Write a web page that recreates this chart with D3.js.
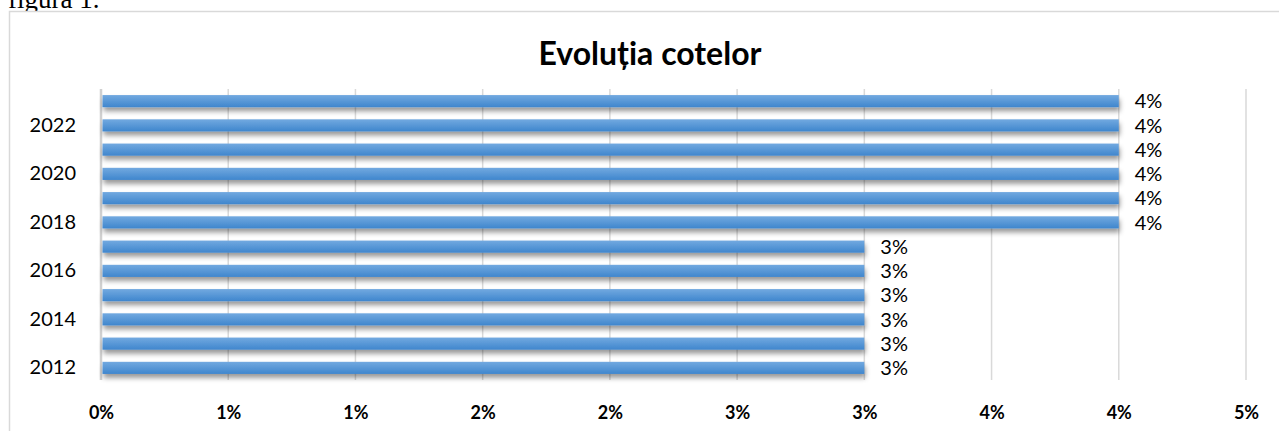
<!DOCTYPE html>
<html>
<head>
<meta charset="utf-8">
<script src="https://cdn.jsdelivr.net/npm/d3@7"></script>
<style>
  body { margin: 0; background: #fff; }
  svg { display: block; }
</style>
</head>
<body>
<div id="chart-area"></div>
<script>
// Datele graficului
const years = ["2012","2013","2014","2015","2016","2017","2018","2019","2020","2021","2022","2023"];
const values = [0.03,0.03,0.03,0.03,0.03,0.03,0.04,0.04,0.04,0.04,0.04,0.04];
const ticks = [0,0.005,0.01,0.015,0.02,0.025,0.03,0.035,0.04,0.045];
const yearLabels = ["2012","2014","2016","2018","2020","2022"];
const title = "Evoluția cotelor";

const W = 1279, H = 431;
const plot = { left: 101, right: 1246, top: 89, bottom: 380 };

const svg = d3.select("#chart-area").append("svg")
    .attr("width", W)
    .attr("height", H);

const defs = svg.append("defs");
const grad = defs.append("linearGradient")
    .attr("id", "barGrad")
    .attr("x1", 0).attr("y1", 0).attr("x2", 0).attr("y2", 1);
grad.append("stop").attr("offset", "0%").attr("stop-color", "#72a9e0");
grad.append("stop").attr("offset", "100%").attr("stop-color", "#3f86cd");

const shadow = defs.append("filter")
    .attr("id", "shadow")
    .attr("x", "-5%").attr("y", "-50%")
    .attr("width", "110%").attr("height", "250%");
shadow.append("feDropShadow")
    .attr("dx", 1).attr("dy", 4)
    .attr("stdDeviation", 2.5)
    .attr("flood-color", "#000")
    .attr("flood-opacity", 0.4);

// Text de deasupra (tăiat, ca în original)
svg.append("text")
    .attr("x", 8).attr("y", 8)
    .attr("font-family", "'Liberation Serif', serif")
    .attr("font-size", 27)
    .attr("fill", "#000")
    .text("figura 1.");

// Chenarul graficului
svg.append("rect")
    .attr("x", 9.5).attr("y", 11.5)
    .attr("width", 1300).attr("height", 500)
    .attr("fill", "#fff")
    .attr("stroke", "#d9d9d9")
    .attr("stroke-width", 1.5);

// Scale
const x = d3.scaleLinear().domain([0, 0.045]).range([plot.left, plot.right]);
const y = d3.scaleBand()
    .domain(years.slice().reverse())
    .range([plot.top, plot.bottom])
    .paddingInner(0.5)
    .paddingOuter(0.25);

// Linii de grilă
svg.append("g")
    .selectAll("line")
    .data(ticks)
    .join("line")
    .attr("x1", d => x(d)).attr("x2", d => x(d))
    .attr("y1", plot.top).attr("y2", plot.bottom)
    .attr("stroke", d => d === 0 ? "#d0d0d0" : "#d9d9d9")
    .attr("stroke-width", d => d === 0 ? 2.5 : 1.5);

// Axa X
const fmt = d => Math.round(d * 100 + 1e-9) + "%";
const xAxis = svg.append("g")
    .attr("transform", `translate(0, ${plot.bottom})`)
    .call(d3.axisBottom(x).tickValues(ticks).tickFormat(fmt).tickSize(0).tickPadding(26));
xAxis.select(".domain").remove();
xAxis.selectAll("text")
    .attr("font-family", "Lato, sans-serif")
    .attr("font-weight", "bold")
    .attr("font-size", 18)
    .attr("fill", "#000");

// Axa Y
const yAxis = svg.append("g")
    .attr("transform", `translate(${plot.left}, 0)`)
    .call(d3.axisLeft(y).tickValues(yearLabels).tickSize(0).tickPadding(25));
yAxis.select(".domain").remove();
yAxis.selectAll("text")
    .attr("font-family", "Lato, sans-serif")
    .attr("font-size", 20)
    .attr("fill", "#000");

// Bare
const data = years.map((yr, i) => ({ year: yr, value: values[i] }));
svg.append("g")
    .selectAll("rect")
    .data(data)
    .join("rect")
    .attr("x", x(0) + 1.5)
    .attr("y", d => y(d.year))
    .attr("width", d => x(d.value) - x(0) - 1.5)
    .attr("height", y.bandwidth())
    .attr("fill", "url(#barGrad)")
    .attr("filter", "url(#shadow)");

// Etichete de date
svg.append("g")
    .selectAll("text")
    .data(data)
    .join("text")
    .attr("x", d => x(d.value) + 16)
    .attr("y", d => y(d.year) + y.bandwidth() / 2)
    .attr("dy", "0.36em")
    .attr("font-family", "Lato, sans-serif")
    .attr("font-size", 20)
    .attr("fill", "#000")
    .text(d => fmt(d.value));

// Titlu
svg.append("text")
    .attr("x", 650).attr("y", 65)
    .attr("text-anchor", "middle")
    .attr("font-family", "Lato, sans-serif")
    .attr("font-weight", "bold")
    .attr("font-size", 32)
    .attr("fill", "#000")
    .text(title);
</script>
</body>
</html>
